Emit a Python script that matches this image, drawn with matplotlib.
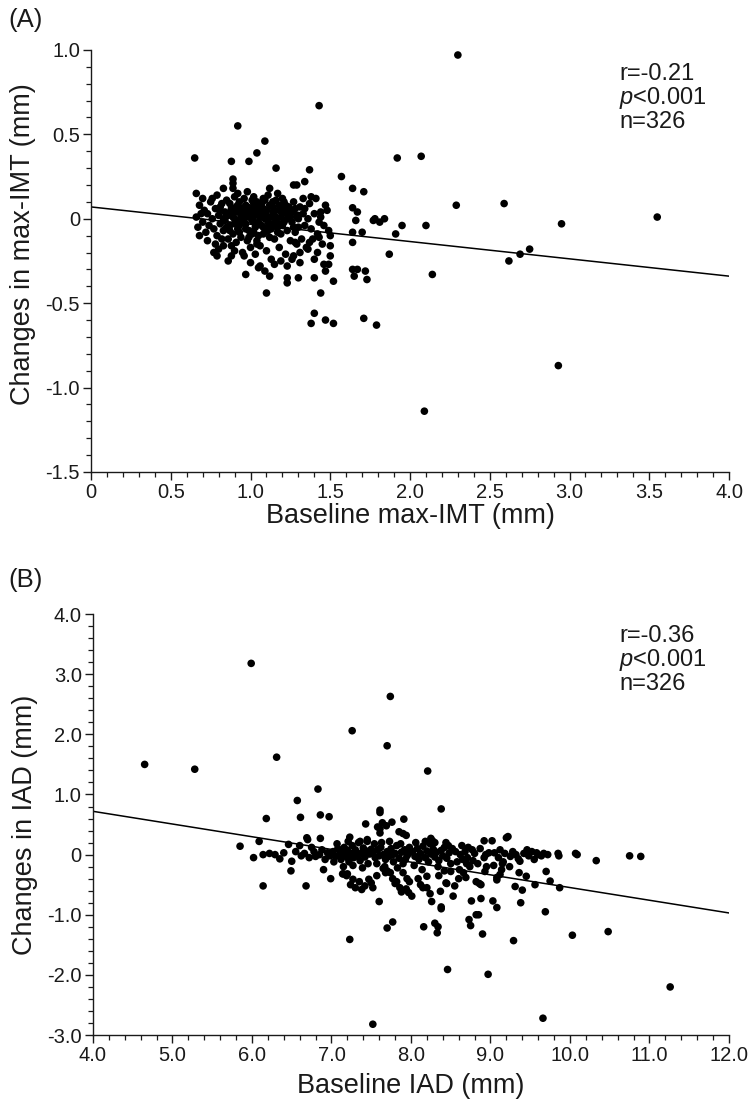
import numpy as np
import matplotlib
matplotlib.use("Agg")
import matplotlib.pyplot as plt
from matplotlib.ticker import MultipleLocator, FuncFormatter

plt.rcParams['font.family'] = ['Liberation Sans', 'DejaVu Sans']
plt.rcParams['axes.unicode_minus'] = False
plt.rcParams['mathtext.fontset'] = 'custom'
plt.rcParams['mathtext.rm'] = 'Liberation Sans'
plt.rcParams['mathtext.it'] = 'Liberation Sans:italic'

# ---- panel A: baseline max-IMT vs change (mm) ----
imt_cluster = [
    (0.66, 0.01), (0.67, -0.05), (0.68, 0.08), (0.70, -0.02), (0.71, 0.05), (0.72, -0.08), (0.73, 0.03),
    (0.74, -0.04), (0.68, -0.10), (0.70, 0.12), (0.75, 0.10), (0.73, -0.13), (0.66, 0.15), (0.69, 0.03),
    (0.76, 0.00), (0.77, -0.06), (0.78, 0.06), (0.79, -0.10), (0.80, 0.02), (0.81, -0.03), (0.82, 0.09),
    (0.83, -0.07), (0.84, 0.04), (0.78, -0.15), (0.80, -0.18), (0.82, -0.12), (0.76, 0.12), (0.79, 0.14),
    (0.84, -0.01), (0.85, 0.11), (0.77, -0.20), (0.81, 0.07), (0.83, -0.16), (0.85, -0.05),
    (0.86, 0.02), (0.87, -0.04), (0.88, 0.06), (0.89, -0.09), (0.90, 0.00), (0.91, 0.04), (0.92, -0.06),
    (0.93, 0.10), (0.94, -0.02), (0.95, 0.05), (0.86, -0.12), (0.88, -0.16), (0.90, 0.13), (0.92, 0.08),
    (0.94, -0.11), (0.87, 0.09), (0.89, 0.01), (0.91, -0.14), (0.93, -0.08), (0.95, -0.20), (0.86, -0.25),
    (0.88, -0.22), (0.92, 0.15), (0.94, 0.02),
    (0.96, 0.00), (0.97, -0.03), (0.98, 0.07), (0.99, -0.07), (1.00, 0.03), (1.01, -0.01), (1.02, 0.09),
    (1.03, -0.05), (1.04, 0.05), (1.05, -0.10), (0.96, 0.12), (0.98, -0.13), (1.00, -0.17), (1.02, 0.13),
    (1.04, -0.15), (0.97, 0.04), (0.99, 0.01), (1.01, -0.09), (1.03, 0.02), (1.05, 0.06), (0.96, -0.22),
    (1.00, -0.26), (1.03, -0.21), (0.98, 0.16), (1.02, -0.02), (1.04, 0.10), (0.97, -0.06), (1.01, 0.11),
    (1.06, 0.01), (1.07, -0.04), (1.08, 0.06), (1.09, -0.08), (1.10, 0.02), (1.11, -0.02), (1.12, 0.08),
    (1.13, -0.06), (1.14, 0.04), (1.15, -0.12), (1.06, -0.16), (1.08, 0.12), (1.10, -0.19), (1.12, -0.11),
    (1.14, 0.10), (1.07, 0.03), (1.09, 0.00), (1.11, 0.14), (1.13, -0.24), (1.15, 0.05), (1.06, -0.28),
    (1.09, -0.31), (1.12, 0.18), (1.08, -0.09), (1.14, -0.03),
    (1.16, 0.00), (1.17, -0.05), (1.18, 0.05), (1.19, -0.09), (1.20, 0.03), (1.21, -0.02), (1.22, 0.08),
    (1.23, -0.07), (1.24, 0.02), (1.25, -0.13), (1.16, 0.11), (1.18, -0.17), (1.20, 0.12), (1.22, -0.21),
    (1.24, 0.07), (1.17, 0.15), (1.19, -0.25), (1.21, 0.06), (1.23, -0.28), (1.25, 0.01), (1.18, -0.03),
    (1.26, -0.02), (1.27, 0.04), (1.28, -0.08), (1.29, 0.01), (1.30, -0.05), (1.31, 0.07), (1.32, -0.12),
    (1.33, 0.03), (1.34, -0.04), (1.35, -0.17), (1.27, 0.10), (1.29, -0.15), (1.31, -0.20), (1.33, 0.12),
    (1.26, -0.24), (1.30, 0.00), (1.34, 0.06),
    (1.36, 0.00), (1.38, -0.06), (1.40, 0.03), (1.42, -0.09), (1.44, 0.01), (1.46, -0.04), (1.48, 0.05),
    (1.37, 0.09), (1.39, -0.12), (1.41, 0.12), (1.43, -0.02), (1.45, -0.15), (1.47, 0.08), (1.49, -0.07),
    (1.36, -0.18), (1.40, -0.24), (1.44, 0.04), (1.50, -0.10), (1.38, 0.13), (1.46, -0.27),
    (0.85, 0.03), (0.90, -0.03), (0.95, 0.01), (1.00, 0.06), (1.05, -0.02), (1.10, 0.05), (1.15, 0.02),
    (1.20, -0.04), (1.25, 0.04), (1.30, 0.02), (0.83, 0.00), (0.88, 0.04), (0.93, -0.04), (0.98, 0.03),
    (1.03, 0.07), (1.08, -0.05), (1.13, 0.01), (1.18, 0.08), (1.23, 0.00), (1.28, 0.06), (0.87, -0.07),
    (0.92, -0.01), (0.97, 0.08), (1.02, -0.08), (1.07, 0.09), (1.12, -0.04), (1.17, -0.08), (1.22, 0.04),
    (1.27, -0.05), (0.81, 0.05), (0.91, 0.07), (1.01, 0.04), (1.11, -0.07), (1.21, 0.10), (0.99, -0.11),
    (1.09, 0.11), (0.94, 0.06), (1.04, -0.13), (1.14, 0.07), (1.19, 0.01),
]
imt_spread = [
    (2.30, 0.97), (1.43, 0.67), (0.92, 0.55), (1.09, 0.46), (1.04, 0.39), (0.65, 0.36), (0.88, 0.34),
    (0.99, 0.34), (1.16, 0.30), (1.37, 0.29), (1.57, 0.25), (0.89, 0.235), (0.89, 0.21), (0.89, 0.18),
    (1.34, 0.22), (1.27, 0.20), (1.29, 0.20), (1.64, 0.18), (1.71, 0.16), (0.83, 0.18), (1.78, 0.00),
    (1.77, -0.01), (1.64, 0.065), (1.67, 0.04), (1.66, -0.01), (1.70, -0.08), (1.64, -0.08), (1.64, -0.14),
    (1.64, -0.30), (1.65, -0.34), (1.67, -0.30), (1.52, -0.37), (1.50, -0.16), (1.50, -0.22), (1.49, -0.27),
    (1.47, -0.31), (1.44, -0.44), (1.40, -0.35), (1.30, -0.35), (1.23, -0.35), (1.23, -0.38), (1.12, -0.34),
    (1.10, -0.44), (0.97, -0.33), (1.05, -0.29), (1.40, -0.56), (1.38, -0.62), (1.47, -0.60), (1.52, -0.62),
    (1.71, -0.59), (1.79, -0.63), (1.42, -0.20), (1.43, -0.11), (1.37, -0.14), (0.79, -0.22), (0.90, -0.19),
    (1.15, -0.27), (1.28, -0.14), (1.27, -0.22), (1.31, -0.26),
    (1.92, 0.36), (2.07, 0.37), (2.29, 0.08), (2.59, 0.09), (2.95, -0.03), (3.55, 0.01), (2.62, -0.25),
    (2.69, -0.21), (2.75, -0.18), (2.14, -0.33), (2.10, -0.04), (1.95, -0.04), (1.91, -0.09), (1.87, -0.21),
    (1.72, -0.31), (1.73, -0.36), (2.09, -1.14), (2.93, -0.87), (1.81, -0.02), (1.84, 0.00),
]
imt_fit_x = [0.0, 4.0]
imt_fit_y = [0.07, -0.34]

# ---- panel B: baseline IAD vs change (mm) ----
iad_points = [
    (4.65, 1.50), (5.28, 1.42), (5.99, 3.18), (6.31, 1.62), (5.85, 0.14), (6.09, 0.22), (6.02, -0.05),
    (6.14, 0.00), (6.22, 0.02), (6.29, 0.00), (6.35, -0.07), (6.14, -0.52), (6.18, 0.60), (6.46, 0.17),
    (6.50, -0.11), (6.49, -0.27), (6.57, 0.90), (6.61, 0.62), (6.68, -0.52), (6.69, 0.28), (6.70, 0.25),
    (6.83, 1.09), (6.86, 0.66), (6.86, 0.27), (6.97, 0.63), (6.90, -0.25), (6.99, -0.40), (6.55, 0.05),
    (6.62, -0.02), (6.66, 0.02), (6.72, -0.05), (6.78, 0.05), (6.80, -0.03), (6.85, 0.00), (6.88, 0.08),
    (6.92, -0.08), (6.95, 0.03), (6.98, -0.02), (6.40, 0.03), (6.75, 0.12), (6.60, 0.15),
    (7.02, 0.05), (7.05, -0.03), (7.08, 0.10), (7.10, 0.00), (7.12, -0.08), (7.14, 0.04), (7.16, 0.12),
    (7.18, -0.02), (7.20, 0.07), (7.22, -0.12), (7.24, 0.02), (7.26, 0.15), (7.28, -0.05), (7.30, 0.08),
    (7.32, -0.01), (7.34, 0.20), (7.36, -0.10), (7.38, 0.03), (7.40, 0.11), (7.42, -0.04), (7.44, 0.06),
    (7.46, -0.15), (7.48, 0.01), (7.50, 0.09), (7.03, -0.12), (7.07, 0.18), (7.15, -0.20), (7.21, 0.22),
    (7.27, -0.18), (7.33, 0.00), (7.39, -0.22), (7.45, 0.25), (7.14, -0.32), (7.19, -0.35), (7.23, 0.29),
    (7.36, 0.22), (7.45, 0.22), (7.20, -0.05), (7.30, -0.02), (7.40, 0.01),
    (7.24, -0.50), (7.27, -0.41), (7.38, -0.58), (7.47, -0.41), (7.50, -0.47), (7.23, -1.41), (7.26, 2.06),
    (7.43, 0.51), (7.30, -0.55), (7.35, -0.45), (7.42, -0.52), (7.15, -0.32), (7.20, -0.32),
    (7.74, 2.63), (7.70, 1.81), (7.61, 0.74), (7.61, 0.70), (7.64, 0.53), (7.69, 0.48), (7.76, 0.54),
    (7.61, 0.43), (7.58, 0.46), (7.61, 0.36), (7.91, 0.59), (7.85, 0.38), (7.90, 0.35), (7.94, 0.32),
    (7.60, -0.78), (7.77, -1.12), (7.70, -1.22), (7.52, -2.82),
    (7.52, 0.02), (7.55, -0.05), (7.58, 0.08), (7.60, -0.02), (7.62, 0.12), (7.65, 0.00), (7.68, -0.08),
    (7.70, 0.05), (7.72, -0.03), (7.75, 0.10), (7.78, -0.12), (7.80, 0.02), (7.82, 0.15), (7.85, -0.06),
    (7.88, 0.04), (7.90, -0.15), (7.92, 0.08), (7.95, -0.02), (7.98, 0.12), (7.54, 0.18), (7.57, -0.15),
    (7.63, 0.20), (7.67, -0.20), (7.73, 0.22), (7.77, 0.00), (7.83, -0.22), (7.87, 0.18), (7.93, -0.08),
    (7.97, 0.02),
    (7.65, -0.23), (7.70, -0.27), (7.74, -0.30), (7.68, -0.30), (7.77, -0.40), (7.80, -0.48), (7.86, -0.55),
    (7.82, -0.45), (7.90, -0.30), (7.95, -0.40), (7.98, -0.45), (7.94, -0.57), (7.97, -0.63), (8.01, -0.69),
    (7.52, -0.55), (7.57, -0.35), (7.88, -0.62),
    (8.21, 1.39), (8.38, 0.76), (8.27, 0.23), (8.25, 0.27), (8.30, 0.20), (8.47, 0.15), (8.02, 0.05),
    (8.05, -0.03), (8.08, 0.10), (8.10, -0.08), (8.12, 0.02), (8.15, 0.14), (8.18, -0.05), (8.20, 0.06),
    (8.22, -0.12), (8.25, 0.01), (8.28, 0.09), (8.30, -0.04), (8.32, 0.04), (8.35, -0.10), (8.38, 0.07),
    (8.40, -0.02), (8.42, 0.12), (8.45, -0.06), (8.48, 0.03), (8.50, -0.15), (8.04, -0.18), (8.14, -0.25),
    (8.24, 0.18), (8.34, -0.20), (8.44, 0.20), (8.09, -0.40), (8.12, -0.50), (8.15, -0.55), (8.16, -1.20),
    (8.20, -0.55), (8.20, -0.36), (8.24, -0.65), (8.26, -0.78), (8.30, -1.14), (8.33, -1.30), (8.34, -1.20),
    (8.37, -0.61), (8.38, -0.87), (8.38, -0.90), (8.44, -0.47), (8.46, -1.91), (8.42, -0.27), (8.50, -0.28),
    (8.35, -0.35), (8.45, -0.48), (8.06, 0.20), (8.18, 0.22),
    (8.53, -0.69), (8.55, -0.52), (8.61, -0.25), (8.62, 0.00), (8.65, -0.08), (8.68, 0.05), (8.70, -0.15),
    (8.72, 0.12), (8.74, -0.20), (8.75, -1.18), (8.73, -1.08), (8.76, -0.77), (8.78, -0.10), (8.80, 0.02),
    (8.82, -1.00), (8.85, -1.00), (8.88, -0.73), (8.82, -0.45), (8.86, -0.48), (8.88, -0.50), (8.90, -1.32),
    (8.92, 0.23), (8.92, -0.05), (8.95, -0.20), (8.97, -1.99), (8.98, 0.03), (8.56, 0.05), (8.58, -0.12),
    (8.64, 0.15), (8.66, -0.30), (8.69, -0.38), (8.71, -0.05), (8.77, 0.08), (8.84, -0.15), (8.87, 0.10),
    (8.93, -0.28), (8.52, 0.10), (8.60, -0.40), (8.94, 0.00),
    (9.02, 0.23), (9.03, -0.77), (9.08, -0.88), (9.08, -0.38), (9.08, -0.42), (9.22, 0.30), (9.20, 0.28),
    (9.29, -1.43), (9.31, -0.53), (9.36, -0.30), (9.37, -0.11), (9.38, -0.80), (9.40, -0.59), (9.45, -0.36),
    (9.35, -0.07), (9.05, 0.03), (9.10, -0.05), (9.12, 0.08), (9.15, -0.15), (9.18, 0.02), (9.25, -0.03),
    (9.28, 0.05), (9.32, 0.00), (9.42, 0.02), (9.46, 0.08), (9.48, -0.02), (9.14, -0.25), (9.04, -0.18),
    (9.24, -0.20), (9.12, -0.33), (9.16, -0.12),
    (9.56, -0.50), (9.60, 0.00), (9.64, -0.02), (9.52, 0.05), (9.66, -2.72), (9.69, -0.95), (9.70, -0.28),
    (9.75, -0.44), (9.87, -0.55), (9.85, 0.02), (9.86, -0.02), (9.58, 0.03), (9.67, 0.02), (9.72, 0.00),
    (9.55, -0.08),
    (10.03, -1.34), (10.07, 0.02), (10.09, 0.00), (10.33, -0.10), (10.48, -1.28), (10.75, -0.02),
    (10.89, -0.03), (11.26, -2.20),
]
iad_fit_x = [4.0, 12.0]
iad_fit_y = [0.72, -0.97]

stats_a = ["r=-0.21", "$p$<0.001", "n=326"]
stats_b = ["r=-0.36", "$p$<0.001", "n=326"]

ink = '#1a1a1a'


def fmt(v, pos):
    return '0' if abs(v) < 1e-9 else f'{v:.1f}'


def style(ax, xmin, xmax, ymin, ymax, xmaj, xmin_step, ymaj, ymin_step):
    ax.set_xlim(xmin, xmax)
    ax.set_ylim(ymin, ymax)
    for s in ['top', 'right']:
        ax.spines[s].set_visible(False)
    for s in ['left', 'bottom']:
        ax.spines[s].set_color(ink)
        ax.spines[s].set_linewidth(1.0)
    ax.xaxis.set_major_locator(MultipleLocator(xmaj))
    ax.xaxis.set_minor_locator(MultipleLocator(xmin_step))
    ax.yaxis.set_major_locator(MultipleLocator(ymaj))
    ax.yaxis.set_minor_locator(MultipleLocator(ymin_step))
    ax.xaxis.set_major_formatter(FuncFormatter(fmt))
    ax.yaxis.set_major_formatter(FuncFormatter(fmt))
    ax.tick_params(which='major', direction='out', length=6, width=1.0, color=ink,
                   labelsize=14.5, labelcolor=ink, pad=2)
    ax.tick_params(which='minor', direction='out', length=3.5, width=0.9, color=ink)


fig = plt.figure(figsize=(7.48, 11.05), dpi=100)
ax1 = fig.add_axes([0.1217, 0.5729, 0.8529, 0.3819])
ax2 = fig.add_axes([0.1243, 0.0633, 0.8503, 0.3810])

x1, y1 = zip(*(imt_cluster + imt_spread))
ax1.scatter(x1, y1, s=30, color='black', edgecolors='none', zorder=3, clip_on=False)
ax1.plot(imt_fit_x, imt_fit_y, color='black', lw=1.1, zorder=2)
style(ax1, 0, 4.0, -1.5, 1.0, 0.5, 0.1, 0.5, 0.1)
ax1.set_xlabel('Baseline max-IMT (mm)', fontsize=19.5, color=ink, labelpad=1)
ax1.set_ylabel('Changes in max-IMT (mm)', fontsize=19.5, color=ink)
ax1.yaxis.set_label_coords(-0.087, 0.54)
for i, t in enumerate(stats_a):
    ax1.text(3.31, 0.855 - 0.14 * i, t, fontsize=17, color=ink, va='center', ha='left')

x2, y2 = zip(*iad_points)
ax2.scatter(x2, y2, s=30, color='black', edgecolors='none', zorder=3, clip_on=False)
ax2.plot(iad_fit_x, iad_fit_y, color='black', lw=1.1, zorder=2)
style(ax2, 4.0, 12.0, -3.0, 4.0, 1.0, 0.2, 1.0, 0.2)
ax2.set_xlabel('Baseline IAD (mm)', fontsize=19.5, color=ink, labelpad=6)
ax2.set_ylabel('Changes in IAD (mm)', fontsize=19.5, color=ink)
ax2.yaxis.set_label_coords(-0.087, 0.5)
for i, t in enumerate(stats_b):
    ax2.text(10.62, 3.63 - 0.40 * i, t, fontsize=17, color=ink, va='center', ha='left')

fig.text(0.011, 1 - 20 / 1105, '(A)', fontsize=18.5, color=ink, va='center', ha='left')
fig.text(0.011, 1 - 580 / 1105, '(B)', fontsize=18.5, color=ink, va='center', ha='left')

fig.savefig('out.png', dpi=100)
